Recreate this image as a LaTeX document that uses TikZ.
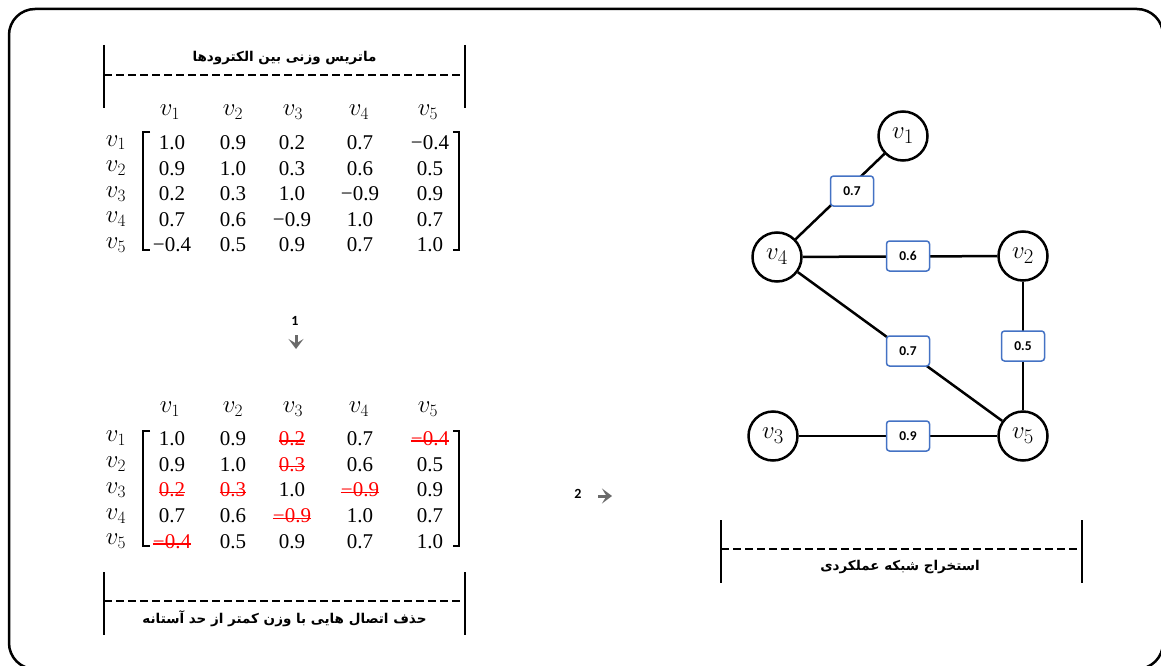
\documentclass[tikz,border=0pt]{standalone}
\usepackage{fontspec}
\usetikzlibrary{arrows.meta}
\TeXXeTstate=1
\newfontfamily\fa[Script=Arabic]{DejaVu Sans}
\newfontfamily\cb{Carlito}
\newfontfamily\numfont{Liberation Serif}
\definecolor{boxblue}{HTML}{4472C4}
\definecolor{arrgray}{HTML}{6A6A6A}
\tikzset{
 num/.style={inner sep=0pt, font=\numfont\fontsize{21}{24}\selectfont},
 del/.style={num, text=red, append after command={([yshift=-2.5pt]\tikzlastnode.west) edge[red, line width=1.4pt] ([yshift=-2.5pt]\tikzlastnode.east)}},
 vlab/.style={inner sep=0pt, font=\fontsize{26}{30}\selectfont},
 bar/.style={line width=2pt},
 dashbar/.style={line width=2.5pt, dash pattern=on 8pt off 4pt},
 title/.style={font=\fa\bfseries\fontsize{13.5}{16}\selectfont, inner sep=0pt},
 brk/.style={line width=1.6pt},
 vert/.style={circle, draw, line width=2.5pt, minimum size=49pt, inner sep=0pt, font=\fontsize{28}{30}\selectfont},
 wbox/.style={draw=boxblue, line width=1.5pt, rounded corners=3pt, fill=white, minimum width=43pt, minimum height=30pt, inner sep=0pt, font=\cb\bfseries\fontsize{13.5}{16}\selectfont},
 link/.style={line width=2.5pt},
 stepnum/.style={inner sep=0pt, font=\cb\bfseries\fontsize{14}{16}\selectfont},
 steparrow/.style={draw=arrgray, line width=3pt, -{Stealth[length=10pt,width=15pt,inset=4.5pt]}},
}
\begin{document}
\begin{tikzpicture}[x=1pt,y=-1pt]
\useasboundingbox (0,0) rectangle (1161,666);
\begin{scope}
\clip (0,0) rectangle (1161,666);
\draw[line width=2.5pt, rounded corners=26pt] (9,9) rectangle (1163,669);
\end{scope}

% ---------- top bar ----------
\coordinate (t1a) at (104,45);  \coordinate (t1b) at (104,108);
\coordinate (t2a) at (465,45);  \coordinate (t2b) at (465,108);
\coordinate (tdl) at (104,75);  \coordinate (tdr) at (465,75);
\draw[bar] (t1a) -- (t1b);
\draw[bar] (t2a) -- (t2b);
\draw[dashbar] (tdl) -- (tdr);
\node[title] (ttop) at (284.5,58) {\fa\bfseries\beginR ماتریس وزنی بین الکترودها\endR};

% ---------- matrix 1 ----------
\foreach \c/\x in {1/170,2/233,3/293,4/359,5/428}
  \node[vlab] (ah\c) at (\x,112) {$v_{\c}$};
\foreach \r/\y/\a/\b/\c/\d/\e in {1/142.7/1.0/0.9/0.2/0.7/−0.4,
                                  2/168.3/0.9/1.0/0.3/0.6/0.5,
                                  3/193.9/0.2/0.3/1.0/−0.9/0.9,
                                  4/219.5/0.7/0.6/−0.9/1.0/0.7,
                                  5/245.1/−0.4/0.5/0.9/0.7/1.0}{
  \node[vlab] (ar\r) at (116,\y) {$v_{\r}$};
  \node[num] (a\r-1) at (172,\y) {\a};
  \node[num] (a\r-2) at (233,\y) {\b};
  \node[num] (a\r-3) at (292,\y) {\c};
  \node[num] (a\r-4) at (360,\y) {\d};
  \node[num] (a\r-5) at (430,\y) {\e};
}
\draw[brk] (150,132) -- (143,132) -- (143,250) -- (150,250);
\draw[brk] (453,132) -- (459,132) -- (459,250) -- (453,250);

% ---------- step 1 ----------
\node[stepnum] (s1) at (295,321) {1};
\coordinate (s1a) at (296,335);
\coordinate (s1b) at (296,349);
\draw[steparrow] (s1a) -- (s1b);

% ---------- matrix 2 ----------
\foreach \c/\x in {1/170,2/233,3/293,4/359,5/428}
  \node[vlab] (bh\c) at (\x,409) {$v_{\c}$};
\foreach \r/\y/\a/\sa/\b/\sb/\c/\sc/\d/\sd/\e/\se in {
   1/438.5/1.0/num/0.9/num/0.2/del/0.7/num/−0.4/del,
   2/464.2/0.9/num/1.0/num/0.3/del/0.6/num/0.5/num,
   3/490/0.2/del/0.3/del/1.0/num/−0.9/del/0.9/num,
   4/516/0.7/num/0.6/num/−0.9/del/1.0/num/0.7/num,
   5/541.5/−0.4/del/0.5/num/0.9/num/0.7/num/1.0/num}{
  \node[vlab] (br\r) at (116,\y) {$v_{\r}$};
  \node[\sa] (b\r-1) at (172,\y) {\a};
  \node[\sb] (b\r-2) at (233,\y) {\b};
  \node[\sc] (b\r-3) at (292,\y) {\c};
  \node[\sd] (b\r-4) at (360,\y) {\d};
  \node[\se] (b\r-5) at (430,\y) {\e};
}
\draw[brk] (150,431) -- (143,431) -- (143,546) -- (150,546);
\draw[brk] (453,431) -- (459,431) -- (459,546) -- (453,546);

% ---------- bottom-left bar ----------
\coordinate (u1a) at (104,572);  \coordinate (u1b) at (104,635);
\coordinate (u2a) at (465,572);  \coordinate (u2b) at (465,635);
\coordinate (udl) at (104,601);  \coordinate (udr) at (465,601);
\draw[bar] (u1a) -- (u1b);
\draw[bar] (u2a) -- (u2b);
\draw[dashbar] (udl) -- (udr);
\node[title] (tbot) at (284.5,619) {\fa\bfseries\beginR حذف اتصال هایی با وزن کمتر از حد آستانه\endR};

% ---------- step 2 ----------
\node[stepnum] (s2) at (578,494) {2};
\coordinate (s2a) at (598,496);
\coordinate (s2b) at (612,496);
\draw[steparrow] (s2a) -- (s2b);

% ---------- graph ----------
\node[vert] (v1) at (903,136) {$v_1$};
\node[vert] (v4) at (777,257) {$v_4$};
\node[vert] (v2) at (1023,256) {$v_2$};
\node[vert] (v3) at (773,436) {$v_3$};
\node[vert] (v5) at (1023,436) {$v_5$};
\draw[link] (v4) -- (v1);
\draw[link] (v4) -- (v2);
\draw[link] (v4) -- (v5);
\draw[link] (v2) -- (v5);
\draw[link] (v3) -- (v5);
\node[wbox] (w14) at (852,191) {0.7};
\node[wbox] (w42) at (908,256) {0.6};
\node[wbox] (w45) at (908,351) {0.7};
\node[wbox] (w25) at (1023,346) {0.5};
\node[wbox] (w35) at (908,436) {0.9};

% ---------- bottom-right bar ----------
\coordinate (r1a) at (721,520);  \coordinate (r1b) at (721,583);
\coordinate (r2a) at (1082,520); \coordinate (r2b) at (1082,583);
\coordinate (rdl) at (721,549);  \coordinate (rdr) at (1082,549);
\draw[bar] (r1a) -- (r1b);
\draw[bar] (r2a) -- (r2b);
\draw[dashbar] (rdl) -- (rdr);
\node[title] (tright) at (900,567) {\fa\bfseries\beginR استخراج شبکه عملکردی\endR};
\end{tikzpicture}
\end{document}
